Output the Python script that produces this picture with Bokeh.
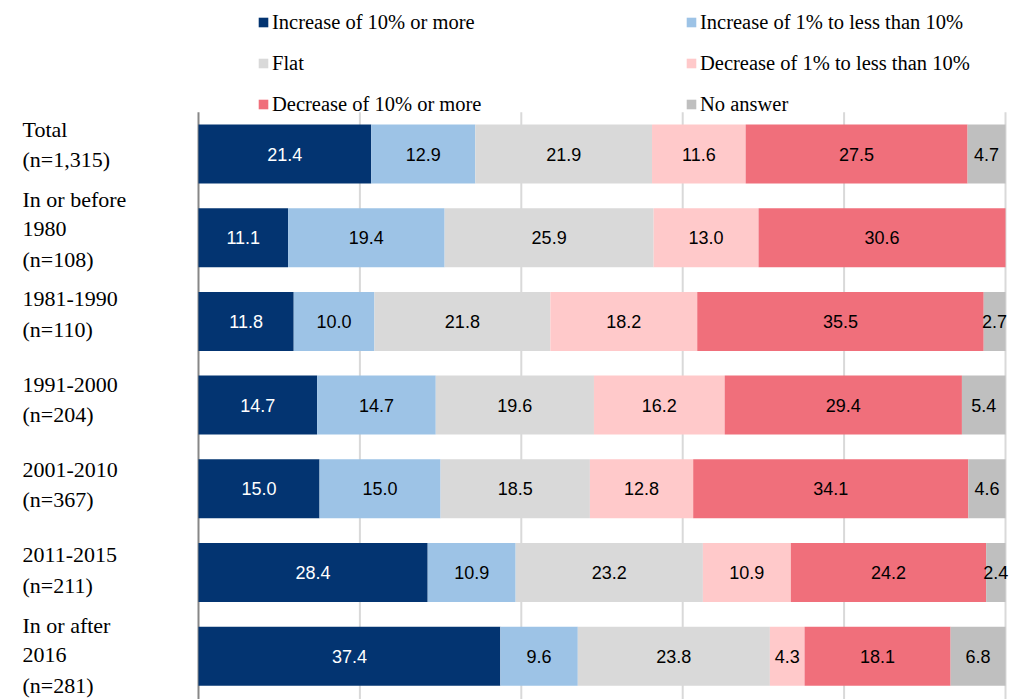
from bokeh.plotting import figure
from bokeh.models import ColumnDataSource, Range1d, Legend, LegendItem, LabelSet
from bokeh.core.properties import value
from bokeh.embed import file_html
from bokeh.resources import INLINE

category_lines = [
    ["Total", "(n=1,315)"],
    ["In or before", "1980", "(n=108)"],
    ["1981-1990", "(n=110)"],
    ["1991-2000", "(n=204)"],
    ["2001-2010", "(n=367)"],
    ["2011-2015", "(n=211)"],
    ["In or after", "2016", "(n=281)"],
]

series_names = [
    "Increase of 10% or more",
    "Increase of 1% to less than 10%",
    "Flat",
    "Decrease of 1% to less than 10%",
    "Decrease of 10% or more",
    "No answer",
]
series_colors = ["#033471", "#9DC3E6", "#D9D9D9", "#FFC9CA", "#F06F7B", "#BFBFBF"]
label_colors = ["#FFFFFF", "#000000", "#000000", "#000000", "#000000", "#000000"]

inc10 = [21.4, 11.1, 11.8, 14.7, 15.0, 28.4, 37.4]
inc1 = [12.9, 19.4, 10.0, 14.7, 15.0, 10.9, 9.6]
flat = [21.9, 25.9, 21.8, 19.6, 18.5, 23.2, 23.8]
dec1 = [11.6, 13.0, 18.2, 16.2, 12.8, 10.9, 4.3]
dec10 = [27.5, 30.6, 35.5, 29.4, 34.1, 24.2, 18.1]
noans = [4.7, 0.0, 2.7, 5.4, 4.6, 2.4, 6.8]
series_values = [inc10, inc1, flat, dec1, dec10, noans]

grid_ticks = [20, 40, 60, 80, 100]

# layout (pixels)
W, H = 1031, 699
PLOT_LEFT, PLOT_RIGHT = 198, 1005     # screen x of 0 % and 100 %
ROW0, PITCH = 153.5, 83.7             # screen y of first row centre, row spacing
LABEL_ROW0, LABEL_PITCH = 143.5, 85.2 # screen y of first category label centre, spacing
px_per_unit = (PLOT_RIGHT - PLOT_LEFT) / 100.0

n = len(category_lines)
ys = list(range(n))

p = figure(
    width=W, height=H,
    x_range=Range1d(-PLOT_LEFT / px_per_unit, (W - PLOT_LEFT) / px_per_unit),
    y_range=Range1d((H - ROW0) / PITCH, -ROW0 / PITCH),
    x_axis_location=None, y_axis_location=None,
    output_backend="svg", toolbar_location=None,
    min_border=0,
)
p.outline_line_color = None
p.xgrid.visible = False
p.ygrid.visible = False

top = -0.5
bottom = n - 0.5 + 0.2
# vertical gridlines
p.segment(x0=grid_ticks, y0=[top] * len(grid_ticks), x1=grid_ticks, y1=[bottom] * len(grid_ticks),
          line_color="#D9D9D9", line_width=2)
# left axis line
p.segment(x0=[0], y0=[top], x1=[0], y1=[bottom], line_color="#878787", line_width=2)

lefts = [0.0] * n
renderers = []
for name, col, lcol, vals in zip(series_names, series_colors, label_colors, series_values):
    rights = [l + v for l, v in zip(lefts, vals)]
    src = ColumnDataSource(dict(y=ys, left=lefts, right=rights))
    r = p.hbar(y="y", left="left", right="right", height=0.705, source=src,
               fill_color=col, line_color=None)
    renderers.append(r)
    mx, my, mt = [], [], []
    for i in range(n):
        if vals[i] > 0:
            mx.append(lefts[i] + vals[i] / 2)
            my.append(ys[i])
            mt.append(f"{vals[i]:.1f}")
    lsrc = ColumnDataSource(dict(x=mx, y=my, t=mt))
    p.add_layout(LabelSet(x="x", y="y", text="t", source=lsrc,
                          text_align="center", text_baseline="middle",
                          text_font=value("Liberation Sans"), text_font_size=value("18px"),
                          text_color=value(lcol)))
    lefts = rights

# category labels (left of the bars)
LABEL_X = 22
LINE_PX = 30
cx, cy, ct = [], [], []
for i, lines in enumerate(category_lines):
    k = len(lines)
    centre_px = LABEL_ROW0 + i * LABEL_PITCH
    for j, line in enumerate(lines):
        sy = centre_px + (j - (k - 1) / 2) * LINE_PX
        cx.append((LABEL_X - PLOT_LEFT) / px_per_unit)
        cy.append((sy - ROW0) / PITCH)
        ct.append(line)
p.text(x=cx, y=cy, text=ct, text_align="left", text_baseline="middle",
       text_font=value("Liberation Serif"), text_font_size=value("22px"), text_color="#000000")

def make_legend(idx, x):
    items = [LegendItem(label=series_names[i], renderers=[renderers[i]]) for i in idx]
    lg = Legend(items=items, location=(x, H - 116), orientation="vertical",
                label_text_font="Liberation Serif", label_text_font_size="20.5px",
                label_text_color="#000000",
                glyph_width=12, glyph_height=12, label_height=24, spacing=17,
                label_standoff=3, padding=0, margin=0,
                border_line_color=None, background_fill_alpha=0)
    p.add_layout(lg, "center")

make_legend([0, 2, 4], 257)
make_legend([1, 3, 5], 685)

open("out.html", "w").write(file_html(p, INLINE))
